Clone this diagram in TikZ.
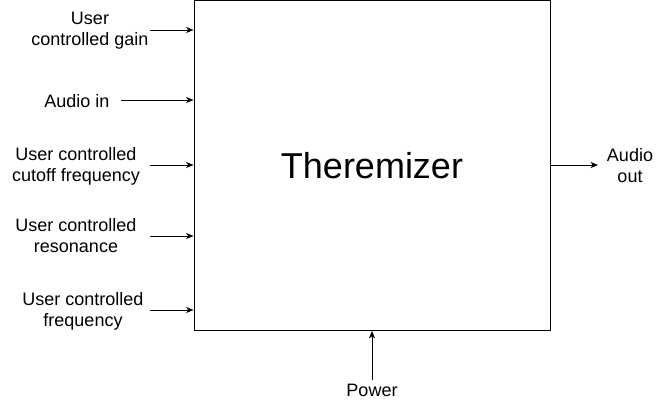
\documentclass[tikz,border=0pt]{standalone}
\usepackage{fontspec}
\setmainfont{Liberation Sans}
\usetikzlibrary{arrows.meta}
\tikzset{
  lbl/.style={align=center,font=\fontsize{13.5}{15.75}\selectfont,inner sep=0pt},
  sig/.style={-{Stealth[length=5.5pt,width=4.5pt,inset=1.5pt]},line width=0.75pt}
}
\begin{document}
\begin{tikzpicture}[x=0.75pt,y=-0.75pt]
\useasboundingbox (0,0) rectangle (661,401);
\node[draw,line width=0.75pt,minimum width=267pt,minimum height=247.5pt,inner sep=0pt,
  font=\fontsize{27}{30}\selectfont] (box) at (372,165.5) {Theremizer};
% inputs
\node[lbl] (gain) at (90,31) {User\\controlled gain};
\node[lbl] (ain) at (77,101) {Audio in};
\node[lbl] (cut) at (76,166) {User controlled\\cutoff frequency};
\node[lbl] (res) at (76,236) {User controlled\\resonance};
\node[lbl] (freq) at (83,311) {User controlled\\frequency};
\node[lbl] (aout) at (630,166) {Audio\\out};
\node[lbl] (pwr) at (372,390) {Power};
\coordinate (g0) at (150,30);
\coordinate (a0) at (121,100);
\coordinate (c0) at (150,165);
\coordinate (r0) at (150,236);
\coordinate (f0) at (150,310);
\coordinate (o1) at (598,165);
\coordinate (p0) at (372,380);
\draw[sig] (g0) -- (box.west |- g0);
\draw[sig] (a0) -- (box.west |- a0);
\draw[sig] (c0) -- (box.west |- c0);
\draw[sig] (r0) -- (box.west |- r0);
\draw[sig] (f0) -- (box.west |- f0);
\draw[sig] (box.east |- o1) -- (o1);
\draw[sig] (p0) -- (box.south -| p0);
\end{tikzpicture}
\end{document}
